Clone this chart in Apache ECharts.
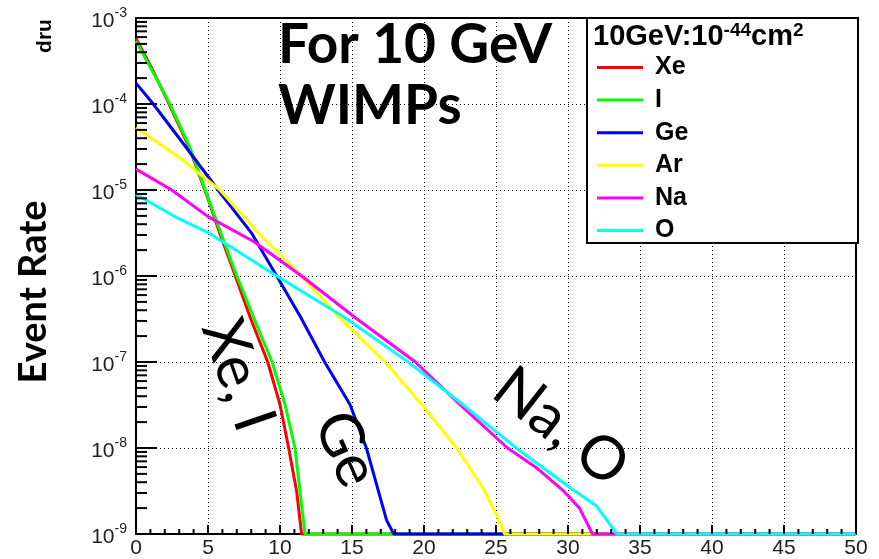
<!DOCTYPE html>
<html>
<head>
<meta charset="utf-8">
<title>Event Rate - 10 GeV WIMPs</title>
<script src="https://cdn.jsdelivr.net/npm/echarts@6.0.0/dist/echarts.min.js"></script>
<style>
  html, body { margin: 0; padding: 0; background: #fff; }
  #chart { width: 879px; height: 559px; }
</style>
</head>
<body>
<div id="chart"></div>
<script>
// recoil energy (x) vs event rate (dru)
var xeData = [[0, 5.8e-4], [1.2, 2.4e-4], [2.3, 1.0e-4], [3.7, 3.1e-5], [5, 7.9e-6], [5.8, 3.2e-6], [6.9, 1.0e-6], [7.96, 3.2e-7], [9.15, 1.0e-7], [10.0, 3.2e-8], [10.6, 1.0e-8], [11.16, 3.1e-9], [11.5, 1.0e-9], [50, 1.0e-9]];
var iData = [[0, 5.4e-4], [1.2, 2.3e-4], [2.35, 1.0e-4], [3.75, 3.1e-5], [5, 8.1e-6], [5.88, 3.2e-6], [7.0, 1.0e-6], [8.2, 3.2e-7], [9.45, 1.0e-7], [10.35, 3.2e-8], [11.04, 1.0e-8], [11.39, 3.1e-9], [11.74, 1.0e-9], [50, 1.0e-9]];
var geData = [[0, 1.75e-4], [1.2, 1.0e-4], [3.5, 3.1e-5], [5.7, 1.0e-5], [8.0, 3.2e-6], [9.77, 1.0e-6], [11.4, 3.4e-7], [13.1, 1.0e-7], [14.86, 3.2e-8], [16.0, 1.0e-8], [16.8, 3.3e-9], [17.4, 1.45e-9], [17.9, 1.0e-9], [50, 1.0e-9]];
var arData = [[0, 5.3e-5], [3.06, 2.35e-5], [5.83, 1.0e-5], [8.47, 3.2e-6], [11.5, 1.0e-6], [14.2, 3.2e-7], [17.3, 1.0e-7], [19.84, 3.2e-8], [22.27, 1.0e-8], [24.1, 3.4e-9], [25.05, 1.66e-9], [25.6, 1.0e-9], [50, 1.0e-9]];
var naData = [[0, 1.75e-5], [2.48, 1.0e-5], [5, 4.9e-6], [8.2, 2.5e-6], [11.5, 1.0e-6], [15.3, 3.2e-7], [19.4, 1.0e-7], [22.5, 3.2e-8], [25.8, 1.0e-8], [27.8, 5.9e-9], [29.66, 3.2e-9], [30.8, 2.0e-9], [31.7, 1.0e-9], [50, 1.0e-9]];
var oData = [[0, 8.9e-6], [2.9, 4.7e-6], [5, 3.2e-6], [9.77, 1.0e-6], [14.6, 3.2e-7], [18.9, 1.0e-7], [22.7, 3.2e-8], [26.4, 1.0e-8], [30.1, 3.5e-9], [32.0, 2.1e-9], [33.4, 1.0e-9], [50, 1.0e-9]];

var seriesNames = ['Xe', 'I', 'Ge', 'Ar', 'Na', 'O'];
var seriesColors = ['#ff0000', '#00ff00', '#0000ff', '#ffff00', '#ff00ff', '#00ffff'];
var seriesData = [xeData, iData, geData, arData, naData, oData];

// tick positions (ROOT style, drawn inside the frame)
var xMajorTicks = [0, 5, 10, 15, 20, 25, 30, 35, 40, 45, 50];
var yDecades = [1e-9, 1e-8, 1e-7, 1e-6, 1e-5, 1e-4, 1e-3];
var yMinorSteps = [2, 3, 4, 5, 6, 7, 8, 9];

var labelFont = 'Liberation Sans';
var frameLine = { show: true, onZero: false, lineStyle: { color: '#000', width: 2 } };

var series = seriesNames.map(function (name, i) {
  return {
    name: name,
    type: 'line',
    data: seriesData[i],
    symbol: 'none',
    showSymbol: false,
    silent: true,
    clip: false,
    z: 2,
    lineStyle: { width: 3, color: seriesColors[i] },
    itemStyle: { color: seriesColors[i] }
  };
});

var textEls = [
  {
    type: 'rect', z: 5,
    shape: { x: 587, y: 18, width: 271, height: 225 },
    style: { fill: '#fff', stroke: '#000', lineWidth: 2 }
  },
  {
    type: 'text', z: 11, x: 593, y: 37,
    style: {
      text: '{b|10GeV:10}{s|-44}{b|cm}{s|2}',
      verticalAlign: 'middle',
      rich: {
        b: { fontSize: 29, fontWeight: 'bold', fontFamily: labelFont, fill: '#000', lineHeight: 32 },
        s: { fontSize: 19, fontWeight: 'bold', fontFamily: labelFont, fill: '#000', lineHeight: 17, verticalAlign: 'top' }
      }
    }
  },
  {
    type: 'text', z: 11, x: 278, y: 45,
    style: { text: 'For 10 GeV', font: 'bold 55px Lato', fill: '#000', verticalAlign: 'middle' }
  },
  {
    type: 'text', z: 11, x: 278, y: 106,
    style: { text: 'WIMPs', font: 'bold 55px Lato', fill: '#000', verticalAlign: 'middle' }
  },
  {
    type: 'text', z: 11, x: 34, y: 292, rotation: Math.PI / 2,
    style: { text: 'Event Rate', font: 'bold 38px Lato', fill: '#000', align: 'center', verticalAlign: 'middle' }
  },
  {
    type: 'text', z: 11, x: 45, y: 36, rotation: Math.PI / 2,
    style: { text: 'dru', font: 'bold 21px ' + labelFont, fill: '#000', align: 'center', verticalAlign: 'middle' }
  },
  {
    type: 'text', z: 11, x: 238, y: 375, rotation: -71 * Math.PI / 180,
    style: { text: 'Xe, I', font: '60px Lato', fill: '#000', align: 'center', verticalAlign: 'middle' }
  },
  {
    type: 'text', z: 11, x: 346, y: 449, rotation: -66 * Math.PI / 180,
    style: { text: 'Ge', font: '60px Lato', fill: '#000', align: 'center', verticalAlign: 'middle' }
  },
  {
    type: 'text', z: 11, x: 561, y: 427, rotation: -38 * Math.PI / 180,
    style: { text: 'Na, O', font: '60px Lato', fill: '#000', align: 'center', verticalAlign: 'middle' }
  }
];

var chart = echarts.init(document.getElementById('chart'));
chart.setOption({
  animation: false,
  backgroundColor: '#fff',
  grid: { left: 136, right: 23, top: 18, bottom: 25 },
  xAxis: [{
    type: 'value',
    min: 0, max: 50, interval: 5,
    axisLine: frameLine,
    axisTick: { show: false },
    splitLine: { show: true, lineStyle: { color: '#000', width: 1, type: [1, 3] } },
    axisLabel: { margin: 4, fontSize: 21, fontFamily: labelFont, color: '#222' }
  }, {
    // top frame edge
    type: 'value', position: 'top', min: 0, max: 50,
    axisLine: frameLine, axisTick: { show: false }, axisLabel: { show: false }, splitLine: { show: false }
  }],
  yAxis: [{
    type: 'log', logBase: 10,
    min: 1e-9, max: 1e-3,
    axisLine: frameLine,
    axisTick: { show: false },
    splitLine: { show: true, lineStyle: { color: '#000', width: 1, type: [1, 3] } },
    axisLabel: {
      margin: 9,
      formatter: function (v) {
        return '{b|10}{s|' + Math.round(Math.log10(v)) + '}';
      },
      rich: {
        b: { fontSize: 21, fontFamily: labelFont, color: '#222', lineHeight: 24, padding: [6, 0, 0, 0] },
        s: { fontSize: 14, fontFamily: labelFont, color: '#222', lineHeight: 14, verticalAlign: 'top' }
      }
    }
  }, {
    // right frame edge
    type: 'log', position: 'right', min: 1e-9, max: 1e-3,
    axisLine: frameLine, axisTick: { show: false }, axisLabel: { show: false }, splitLine: { show: false }
  }],
  legend: {
    data: seriesNames,
    orient: 'vertical',
    left: 597, top: 55,
    padding: 0,
    itemGap: 7.6,
    itemWidth: 46, itemHeight: 3,
    icon: 'rect',
    selectedMode: false,
    z: 10,
    textStyle: {
      fontSize: 25, fontWeight: 'bold', fontFamily: labelFont, color: '#000',
      lineHeight: 25, padding: [0, 0, 0, 7]
    }
  },
  series: series
});

// inside ticks, placed through the grid's own scales
function toPx(x, y) {
  return chart.convertToPixel({ gridIndex: 0 }, [x, y]);
}
function tick(p, dx, dy, w) {
  return {
    type: 'rect', z: 12, silent: true,
    shape: {
      x: dx > 0 ? p[0] : p[0] - w / 2,
      y: dy < 0 ? p[1] + dy : p[1] - w / 2,
      width: dx > 0 ? dx : w,
      height: dy < 0 ? -dy : w
    },
    style: { fill: '#000' }
  };
}

var tickEls = [];
for (var i = 0; i < xMajorTicks.length; i++) {
  var a = xMajorTicks[i];
  tickEls.push(tick(toPx(a, 1e-9), 0, -9, 2));
  if (i < xMajorTicks.length - 1) {
    for (var k = 1; k < 5; k++) {
      tickEls.push(tick(toPx(a + k, 1e-9), 0, -5, 2));
    }
  }
}
yDecades.forEach(function (d, j) {
  tickEls.push(tick(toPx(0, d), 21, 0, 2));
  if (j < yDecades.length - 1) {
    yMinorSteps.forEach(function (s) {
      tickEls.push(tick(toPx(0, s * d), 11, 0, 2));
    });
  }
});

chart.setOption({ graphic: textEls.concat(tickEls) });
</script>
</body>
</html>
